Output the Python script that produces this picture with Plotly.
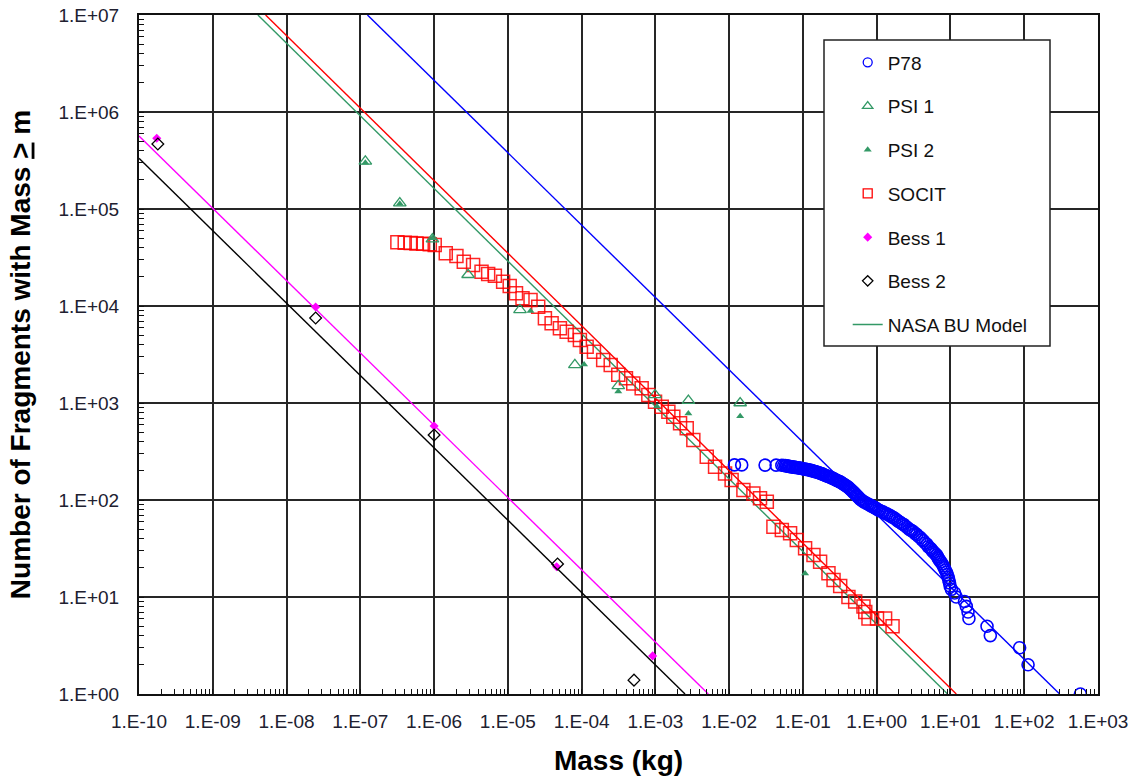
import plotly.graph_objects as go

# ---------------- data ----------------
x_tick_exps = list(range(-10, 4))
x_tick_labels = ["1.E-10", "1.E-09", "1.E-08", "1.E-07", "1.E-06", "1.E-05", "1.E-04",
                 "1.E-03", "1.E-02", "1.E-01", "1.E+00", "1.E+01", "1.E+02", "1.E+03"]
y_tick_exps = list(range(0, 8))
y_tick_labels = ["1.E+00", "1.E+01", "1.E+02", "1.E+03", "1.E+04", "1.E+05", "1.E+06", "1.E+07"]

# P78 (open blue circles)
p78_mass = [0.0118, 0.0148, 0.0307, 0.0433, 0.0518,
            0.055, 0.058, 0.060, 0.063, 0.065, 0.067, 0.070, 0.072, 0.075, 0.078,
            0.081, 0.085, 0.088, 0.092, 0.096, 0.100, 0.105, 0.110, 0.114, 0.118,
            0.125, 0.130, 0.135, 0.140, 0.145, 0.150, 0.158, 0.164, 0.171, 0.178,
            0.185, 0.192, 0.200, 0.207, 0.215, 0.225, 0.234, 0.245, 0.255, 0.267,
            0.28, 0.29, 0.30, 0.31, 0.319, 0.33, 0.345, 0.36, 0.375, 0.39,
            0.41, 0.425, 0.44, 0.455, 0.475, 0.49, 0.511, 0.53, 0.55, 0.57,
            0.597, 0.62, 0.65, 0.68, 0.72, 0.76, 0.80, 0.84, 0.88, 0.92,
            0.953, 1.0, 1.05, 1.1, 1.17, 1.23, 1.30, 1.37, 1.45, 1.52,
            1.60, 1.69, 1.78, 1.88, 1.98, 2.08, 2.20, 2.32, 2.44, 2.6,
            2.75, 2.88, 3.0, 3.15, 3.33, 3.5, 3.7, 3.9, 4.1, 4.3,
            4.55, 4.8, 5.0, 5.3, 5.5, 5.66, 5.9, 6.2, 6.5, 6.7,
            6.83, 7.1, 7.4, 7.7, 7.98, 8.2, 8.5, 8.8, 9.05, 9.3,
            9.5, 9.7, 9.9, 10.3, 11.4, 12.0, 15.5, 16.4, 17.3, 17.8,
            31.3, 34.7, 86.6, 112.7, 577]
p78_n = [230, 230, 229, 229, 228,
         227, 226, 225, 223, 222, 221, 220, 219, 218, 217,
         216, 215, 214, 213, 211, 210, 208, 207, 206, 205,
         203, 201, 200, 198, 197, 195, 193, 191, 189, 187,
         185, 182, 180, 178, 176, 174, 172, 169, 167, 164,
         161, 159, 157, 155, 154, 151, 148, 145, 142, 139,
         136, 132, 129, 126, 122, 119, 116, 112, 109, 106,
         102, 100, 97, 95, 93, 91, 89, 87, 86, 84,
         83, 81, 79, 78, 76, 75, 73, 72, 70, 69,
         67, 66, 64, 62, 60, 59, 57, 56, 54, 52,
         50, 49, 48, 47, 45, 44, 42, 41, 39, 38,
         36, 35, 33, 32, 31, 30, 29, 28, 27, 26,
         25, 24, 23, 22, 21, 20, 19, 18, 17, 16,
         15, 14, 13, 12, 11, 10, 9, 8, 7, 6,
         5, 4, 3, 2, 1]

# PSI 1 (open green triangles)
psi1_mass = [1.17e-7, 3.43e-7, 9.5e-7, 2.89e-6, 1.46e-5, 8.1e-5, 3.14e-4, 9.9e-4, 2.8e-3, 0.0141]
psi1_n = [3.1e5, 1.15e5, 4.9e4, 2.1e4, 9.1e3, 2.47e3, 1.5e3, 1.21e3, 1.06e3, 1.0e3]

# PSI 2 (filled green triangles)
psi2_mass = [1.17e-7, 3.43e-7, 9.5e-7, 2.03e-5, 1.08e-4, 3.14e-4, 1.05e-3, 2.8e-3, 0.0141, 0.107]
psi2_n = [3.0e5, 1.13e5, 5.0e4, 8.9e3, 2.5e3, 1.31e3, 920, 780, 730, 17.5]

# SOCIT (open red squares)
socit_mass = [3.18e-7, 4.0e-7, 4.83e-7, 5.77e-7, 7.1e-7, 8.75e-7, 1.02e-6, 1.44e-6, 2.01e-6, 2.53e-6,
              3.38e-6, 4.40e-6, 5.41e-6, 6.67e-6, 8.63e-6, 1.06e-5, 1.29e-5, 1.58e-5, 2.03e-5, 2.58e-5,
              3.18e-5, 3.92e-5, 5.08e-5, 6.27e-5, 8.11e-5, 9.48e-5, 1.17e-4, 1.47e-4, 1.96e-4, 2.48e-4,
              3.14e-4, 3.99e-4, 5.01e-4, 6.52e-4, 8.02e-4, 9.89e-4, 1.22e-3, 1.50e-3, 1.75e-3, 2.16e-3,
              2.66e-3, 3.27e-3, 4.97e-3, 6.44e-3, 8.80e-3, 1.08e-2, 1.56e-2, 2.13e-2, 2.62e-2, 3.24e-2,
              3.98e-2, 5.18e-2, 6.70e-2, 8.26e-2, 0.107, 0.139, 0.171, 0.222, 0.26, 0.320,
              0.414, 0.511, 0.662, 0.70, 0.774, 1.01, 1.30, 1.64]
socit_n = [45500, 45000, 44500, 44200, 43800, 43300, 42500, 34900, 32700, 28600,
           26500, 22600, 21400, 20500, 17800, 16100, 13500, 12000, 11500, 9840,
           7470, 6640, 5890, 5430, 5020, 4460, 3800, 3380, 2780, 2470,
           1950, 1800, 1590, 1420, 1210, 1030, 916, 813, 722, 618,
           548, 416, 279, 220, 188, 161, 127, 117, 104, 96,
           53, 49, 45.4, 38.7, 31.8, 27.1, 23.1, 17.6, 15, 13,
           10, 9, 8, 7, 6, 6, 6, 5]

# Bess 1 (filled magenta diamonds)
bess1_mass = [1.74e-10, 2.48e-8, 1.0e-6, 4.58e-5, 9.18e-4]
bess1_n = [5.36e5, 9770, 580, 20.5, 2.47]

# Bess 2 (open black diamonds)
bess2_mass = [1.80e-10, 2.48e-8, 1.0e-6, 4.72e-5, 5.13e-4]
bess2_n = [4.68e5, 7520, 468, 21.9, 1.39]

# NASA breakup-model curves (end points of each straight log-log line)
model_blue_mass = [1.25e-7, 302]
model_blue_n = [1e7, 1]
model_red_mass = [5.2e-9, 12.0]
model_red_n = [1e7, 1]
model_green_mass = [4.09e-9, 9.14]
model_green_n = [1e7, 1]
model_magenta_mass = [1e-10, 5.22e-3]
model_magenta_n = [5.66e5, 1]
model_black_mass = [1e-10, 2.52e-3]
model_black_n = [3.33e5, 1]

# ---------------- styling ----------------
BLUE = "#0000ff"
GREEN = "#339966"
RED = "#ff0000"
MAGENTA = "#ff00ff"
BLACK = "#000000"
FONT = "Liberation Sans, Arial, sans-serif"

fig = go.Figure()

# model lines
for mx, ny, col in [(model_blue_mass, model_blue_n, BLUE),
                    (model_red_mass, model_red_n, RED),
                    (model_green_mass, model_green_n, GREEN),
                    (model_magenta_mass, model_magenta_n, MAGENTA),
                    (model_black_mass, model_black_n, BLACK)]:
    fig.add_trace(go.Scatter(x=mx, y=ny, mode="lines", line=dict(color=col, width=1.4),
                             showlegend=False, hoverinfo="skip"))

# data points
fig.add_trace(go.Scatter(x=socit_mass, y=socit_n, mode="markers", showlegend=False,
                         marker=dict(symbol="square-open", size=13, color=RED,
                                     line=dict(width=1.5, color=RED), opacity=0.85)))
fig.add_trace(go.Scatter(x=p78_mass, y=p78_n, mode="markers", showlegend=False,
                         marker=dict(symbol="circle-open", size=12, color=BLUE,
                                     line=dict(width=1.6, color=BLUE))))
fig.add_trace(go.Scatter(x=psi1_mass, y=psi1_n, mode="markers", showlegend=False,
                         marker=dict(symbol="triangle-up-open", size=11, color=GREEN,
                                     line=dict(width=1.3, color=GREEN))))
fig.add_trace(go.Scatter(x=psi2_mass, y=psi2_n, mode="markers", showlegend=False,
                         marker=dict(symbol="triangle-up", size=7, color=GREEN)))
fig.add_trace(go.Scatter(x=bess1_mass, y=bess1_n, mode="markers", showlegend=False,
                         marker=dict(symbol="diamond", size=7, color=MAGENTA)))
fig.add_trace(go.Scatter(x=bess2_mass, y=bess2_n, mode="markers", showlegend=False,
                         marker=dict(symbol="diamond-open", size=9, color=BLACK,
                                     line=dict(width=1.3, color=BLACK))))

# legend entries
legend_items = [
    ("P78", dict(symbol="circle-open", size=9, color=BLUE, line=dict(width=1.3, color=BLUE)), "markers", None),
    ("PSI 1", dict(symbol="triangle-up-open", size=9, color=GREEN, line=dict(width=1.3, color=GREEN)), "markers", None),
    ("PSI 2", dict(symbol="triangle-up", size=7, color=GREEN), "markers", None),
    ("SOCIT", dict(symbol="square-open", size=9, color=RED, line=dict(width=1.3, color=RED)), "markers", None),
    ("Bess 1", dict(symbol="diamond", size=7, color=MAGENTA), "markers", None),
    ("Bess 2", dict(symbol="diamond-open", size=8, color=BLACK, line=dict(width=1.3, color=BLACK)), "markers", None),
    ("NASA BU Model", None, "lines", dict(color=GREEN, width=1.5)),
]
for i, (name, mk, mode, ln) in enumerate(legend_items):
    kw = dict(x=[None], y=[None], mode=mode, name=name, legendgroup=f"g{i}", showlegend=True)
    if mk is not None:
        kw["marker"] = mk
    if ln is not None:
        kw["line"] = ln
    fig.add_trace(go.Scatter(**kw))

axis_common = dict(
    type="log", automargin=False,
    showgrid=True, gridcolor="#262626", gridwidth=1.5,
    showline=True, linecolor="#111111", linewidth=2, mirror=True,
    ticks="inside", ticklen=5, tickcolor="#111111",
    tickfont=dict(family=FONT, size=19, color="#202030"),
    minor=dict(ticks="inside", ticklen=5, dtick="D1", tickcolor="#111111", showgrid=False),
    zeroline=False,
)

fig.update_layout(
    width=1136, height=776,
    margin=dict(l=139, r=38, t=15, b=82, autoexpand=False),
    paper_bgcolor="white", plot_bgcolor="white",
    font=dict(family=FONT),
    xaxis=dict(axis_common, range=[-10, 3],
               tickmode="array", tickvals=[10.0 ** e for e in x_tick_exps], ticktext=x_tick_labels,
               ticklabelstandoff=9,
               title=dict(text="Mass (kg)", font=dict(family=FONT, size=28, color="black", weight="bold"),
                          standoff=21)),
    yaxis=dict(axis_common, range=[0, 7],
               tickmode="array", tickvals=[10.0 ** e for e in y_tick_exps], ticktext=y_tick_labels,
               ticklabelstandoff=14,
               title=dict(text="Number of Fragments with Mass <u>&gt;</u> m",
                          font=dict(family=FONT, size=28, color="black", weight="bold"),
                          standoff=20)),
    legend=dict(x=0.739, y=0.958, xanchor="left", yanchor="top",
                bgcolor="rgba(0,0,0,0)", borderwidth=0,
                font=dict(family=FONT, size=19, color="#111111"),
                tracegroupgap=16, traceorder="grouped"),
    shapes=[dict(type="rect", xref="paper", yref="paper",
                 x0=(824 - 139) / 959, x1=(1050 - 139) / 959,
                 y0=1 - (346 - 15) / 679, y1=1 - (40 - 15) / 679,
                 fillcolor="white", line=dict(color="#222222", width=1.5), layer="above")],
    showlegend=True,
)

fig.write_html("out.html")
